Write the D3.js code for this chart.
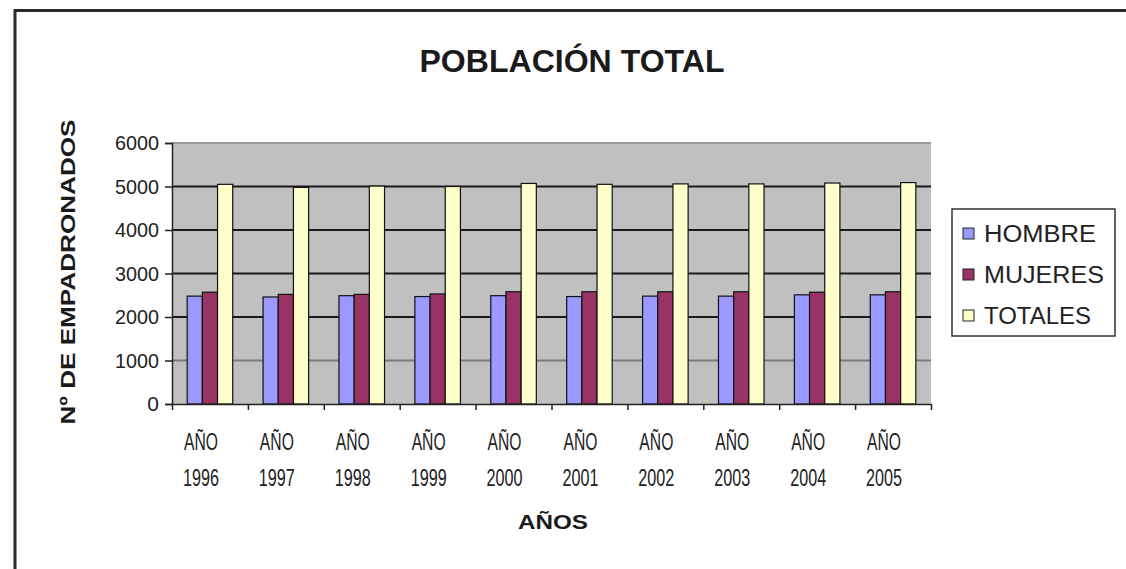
<!DOCTYPE html>
<html>
<head>
<meta charset="utf-8">
<script src="https://cdn.jsdelivr.net/npm/d3@7"></script>
<style>
  body { margin: 0; background: #fff; }
  svg { display: block; font-family: "Liberation Sans", Arial, sans-serif; }
</style>
</head>
<body>
<svg id="chart" width="1126" height="569"></svg>
<script>
// data
var years = ["1996","1997","1998","1999","2000","2001","2002","2003","2004","2005"];
var series = ["HOMBRE","MUJERES","TOTALES"];
var hombre  = [2480, 2460, 2490, 2470, 2490, 2470, 2480, 2480, 2510, 2510];
var mujeres = [2570, 2520, 2520, 2530, 2580, 2580, 2580, 2580, 2570, 2580];
var totales = [5050, 4980, 5010, 5000, 5070, 5050, 5060, 5060, 5080, 5090];
var y_ticks = [0, 1000, 2000, 3000, 4000, 5000, 6000];
var colours = ["#9999ff", "#993366", "#ffffcc"];

var rows = years.map(function(y, i) {
    return {year: y, values: [hombre[i], mujeres[i], totales[i]]};
});

var svg = d3.select("#chart");

// outer frame (top + left edge only, like the cropped screenshot)
svg.append("path")
    .attr("d", "M15,569 V10.5 H1126")
    .attr("fill", "none")
    .attr("stroke", "#2a2a2a")
    .attr("stroke-width", 3);

var plot = {left: 172, right: 931, top: 143, bottom: 404};

var x0 = d3.scaleBand().domain(years).range([plot.left, plot.right]).padding(0);
var x1 = d3.scaleBand().domain(d3.range(series.length))
    .range([0, x0.bandwidth()]).paddingInner(0).paddingOuter(1);
var y = d3.scaleLinear().domain([0, 6000]).range([plot.bottom, plot.top]);

// grey plot area
svg.append("rect")
    .attr("x", plot.left).attr("y", plot.top)
    .attr("width", plot.right - plot.left).attr("height", plot.bottom - plot.top)
    .attr("fill", "#c0c0c0");

// gridlines
svg.append("g").selectAll("line")
    .data(y_ticks.filter(function(d) { return d > 0; }))
    .enter().append("line")
    .attr("x1", plot.left).attr("x2", plot.right)
    .attr("y1", function(d) { return y(d); })
    .attr("y2", function(d) { return y(d); })
    .attr("stroke", function(d) { return d === 6000 ? "#9a9a9a" : (d === 1000 ? "#7a7a7a" : "#1a1a1a"); })
    .attr("stroke-width", 2);

// bars
var groups = svg.append("g").selectAll("g")
    .data(rows).enter().append("g")
    .attr("transform", function(d) { return "translate(" + x0(d.year) + ",0)"; });

groups.selectAll("rect")
    .data(function(d) { return d.values; })
    .enter().append("rect")
    .attr("x", function(d, i) { return x1(i); })
    .attr("width", x1.bandwidth())
    .attr("y", function(d) { return y(d); })
    .attr("height", function(d) { return y(0) - y(d); })
    .attr("fill", function(d, i) { return colours[i]; })
    .attr("stroke", "#111")
    .attr("stroke-width", 1.2);

// y axis
var y_axis = d3.axisLeft(y).tickValues(y_ticks).tickFormat(d3.format("d"))
    .tickSize(7).tickPadding(6);
var gy = svg.append("g")
    .attr("transform", "translate(" + plot.left + ",0)")
    .call(y_axis);
gy.select(".domain").attr("stroke", "#222").attr("stroke-width", 1.5);
gy.selectAll(".tick line").attr("stroke", "#222").attr("stroke-width", 1.5);
gy.selectAll(".tick text")
    .attr("font-size", 21).attr("fill", "#222")
    .attr("font-family", "'Liberation Sans', Arial, sans-serif")
    .attr("textLength", 44).attr("lengthAdjust", "spacingAndGlyphs")
    .filter(function(d) { return d === 0; }).attr("textLength", null);

// x axis: ticks at category boundaries
var x_idx = d3.scaleLinear().domain([0, years.length]).range([plot.left, plot.right]);
var x_axis = d3.axisBottom(x_idx).tickValues(d3.range(years.length + 1))
    .tickSize(6).tickFormat("").tickSizeOuter(0);
var gx = svg.append("g")
    .attr("transform", "translate(0," + plot.bottom + ")")
    .call(x_axis);
gx.select(".domain").attr("stroke", "#222").attr("stroke-width", 1.5);
gx.selectAll(".tick line").attr("stroke", "#222").attr("stroke-width", 1.5);

// category labels (two lines, condensed, sitting a bit left of the band centre)
var labels = svg.append("g").selectAll("g")
    .data(years).enter().append("g")
    .attr("transform", function(d) { return "translate(" + (x0(d) + x0.bandwidth() / 2 - 9) + ",0)"; });
labels.append("text")
    .attr("y", 450).attr("text-anchor", "middle")
    .attr("font-size", 24).attr("fill", "#222")
    .attr("textLength", 34).attr("lengthAdjust", "spacingAndGlyphs")
    .text("AÑO");
labels.append("text")
    .attr("y", 486).attr("text-anchor", "middle")
    .attr("font-size", 24).attr("fill", "#222")
    .attr("textLength", 36).attr("lengthAdjust", "spacingAndGlyphs")
    .text(function(d) { return d; });

// titles
svg.append("text")
    .attr("x", 572).attr("y", 72).attr("text-anchor", "middle")
    .attr("font-size", 32).attr("font-weight", "bold").attr("fill", "#1a1a1a")
    .attr("textLength", 305).attr("lengthAdjust", "spacingAndGlyphs")
    .text("POBLACIÓN TOTAL");

svg.append("text")
    .attr("x", 553).attr("y", 529).attr("text-anchor", "middle")
    .attr("font-size", 21).attr("font-weight", "bold").attr("fill", "#1a1a1a")
    .attr("textLength", 70).attr("lengthAdjust", "spacingAndGlyphs")
    .text("AÑOS");

svg.append("text")
    .attr("transform", "translate(75,272) rotate(-90)")
    .attr("text-anchor", "middle")
    .attr("font-size", 20).attr("font-weight", "bold").attr("fill", "#1a1a1a")
    .attr("textLength", 305).attr("lengthAdjust", "spacingAndGlyphs")
    .text("Nº DE EMPADRONADOS");

// legend
var legend = svg.append("g").attr("transform", "translate(952,209)");
legend.append("rect")
    .attr("width", 163).attr("height", 127)
    .attr("fill", "#fff").attr("stroke", "#333").attr("stroke-width", 1.5);
var legend_len = [112, 120, 107];
var item = legend.selectAll(".item")
    .data(series).enter().append("g")
    .attr("class", "item")
    .attr("transform", function(d, i) { return "translate(0," + (24 + i * 41) + ")"; });
item.append("rect")
    .attr("x", 11).attr("y", -5).attr("width", 11).attr("height", 11)
    .attr("fill", function(d, i) { return colours[i]; })
    .attr("stroke", "#222").attr("stroke-width", 1);
item.append("text")
    .attr("x", 32).attr("y", 9)
    .attr("font-size", 23).attr("fill", "#222")
    .attr("textLength", function(d, i) { return legend_len[i]; })
    .attr("lengthAdjust", "spacingAndGlyphs")
    .text(function(d) { return d; });
</script>
</body>
</html>
